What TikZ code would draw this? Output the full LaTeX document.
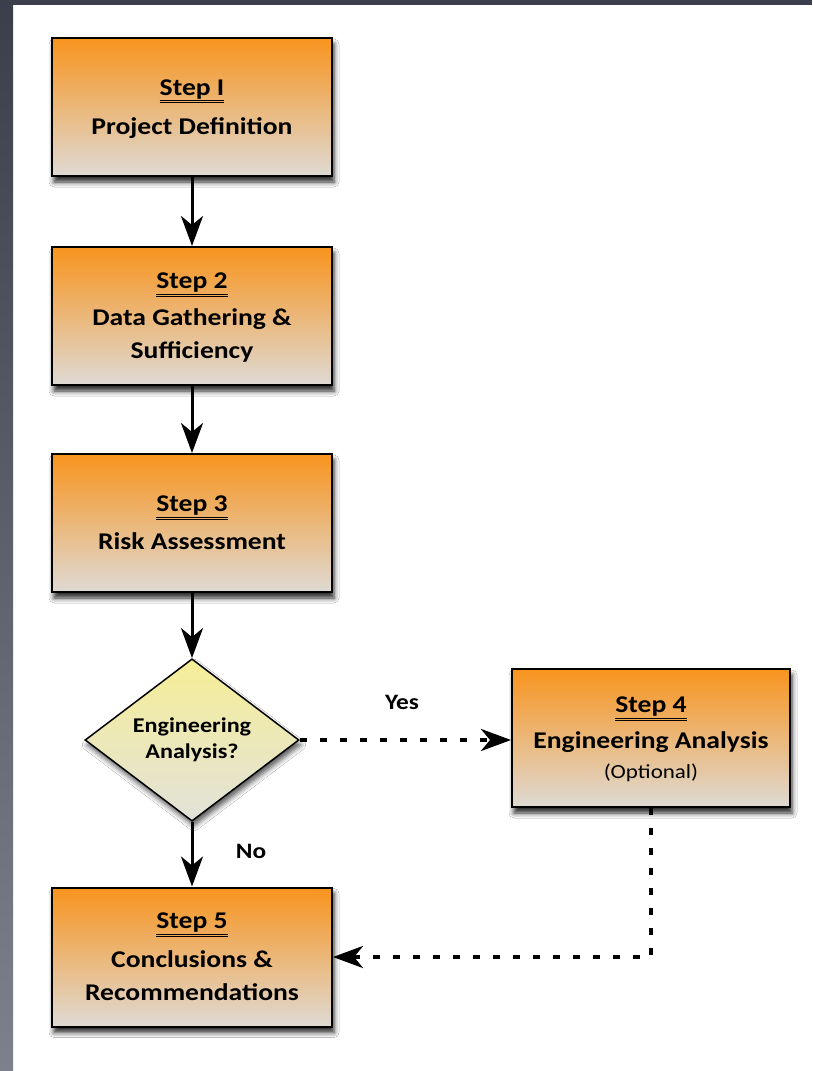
\documentclass[tikz,border=0pt]{standalone}
\usepackage{fontspec}
\setmainfont{Carlito}[FakeStretch=1.15]
\usepackage{xcolor}
\usepackage{tikz}
\usetikzlibrary{arrows.meta, shapes.geometric, shadows.blur}

\definecolor{boxtop}{RGB}{248,148,30}
\definecolor{boxbot}{RGB}{222,218,212}
\definecolor{dectop}{RGB}{246,238,150}
\definecolor{decbot}{RGB}{226,226,218}
\definecolor{frametop}{RGB}{58,63,75}
\definecolor{framebot}{RGB}{125,129,139}
\newcommand{\stephead}[1]{\underline{\underline{#1}}}

\begin{document}
\begin{tikzpicture}[x=1pt, y=-1pt, >={Stealth[length=30pt, width=22pt, inset=9pt]}, font=\fontsize{24}{33}\selectfont\bfseries]
	\tikzstyle{stepbox} = [draw=black, line width=2pt, rectangle, minimum width=280pt, minimum height=138pt, align=center, text depth=0pt, top color=boxtop, bottom color=boxbot, blur shadow={shadow xshift=2pt, shadow yshift=-6pt, shadow blur radius=5pt, shadow opacity=85}]
	\tikzstyle{decision} = [draw=black, line width=1.5pt, diamond, minimum width=214pt, minimum height=156pt, inner sep=0pt, align=center, top color=dectop, bottom color=decbot, font=\fontsize{21}{26}\selectfont\bfseries, blur shadow={shadow xshift=2pt, shadow yshift=-5pt, shadow blur radius=5pt, shadow opacity=65}]
	\tikzstyle{invis} = [draw=none, font=\fontsize{22}{26}\selectfont\bfseries]
	\tikzstyle{solidarrow} = [line width=3pt]
	\tikzstyle{dotarrow} = [line width=4pt, dash pattern=on 7pt off 13pt]

	% frame and page
	\fill[white] (0,0) rectangle (812,1071);
	\useasboundingbox (0,0) rectangle (812,1071);
	\shade[top color=frametop, bottom color=framebot] (0,0) rectangle (13,1071);
	\fill[frametop] (0,0) rectangle (812,5);

	\node[stepbox]		at (192, 107)		(q0)	{\stephead{Step I}\\[6pt]Project Definition};
	\node[stepbox]		at (192, 316)		(q1)	{\stephead{Step 2}\\[4pt]Data Gathering \&\\Sufficiency};
	\node[stepbox]		at (192, 523)		(q2)	{\stephead{Step 3}\\[5pt]Risk Assessment};
	\node[decision]		at (192, 740)		(q3)	{Engineering\\Analysis?};
	\node[stepbox, minimum width=278pt]	at (651, 738)	(q4)	{\stephead{Step 4}\\[3pt]Engineering Analysis\\[-3pt]{\mdseries\fontsize{20}{24}\selectfont (Optional)}};
	\node[stepbox, minimum height=139pt]	at (192, 957)	(q5)	{\stephead{Step 5}\\[6pt]Conclusions \&\\Recommendations};
	\node[invis]		at (402, 702)		(q6)	{Yes};
	\node[invis]		at (251, 851)		(q7)	{No};

	\path[->, solidarrow]
	(q0)	edge	(q1)
	(q1)	edge	(q2)
	(q2)	edge	(q3)
	(q3)	edge	(q5);
	\draw[->, dotarrow] (q3.east) -- (q3.east -| q4.west);
	\draw[->, dotarrow] (q4.south) |- (q5.east);
\end{tikzpicture}
\end{document}
